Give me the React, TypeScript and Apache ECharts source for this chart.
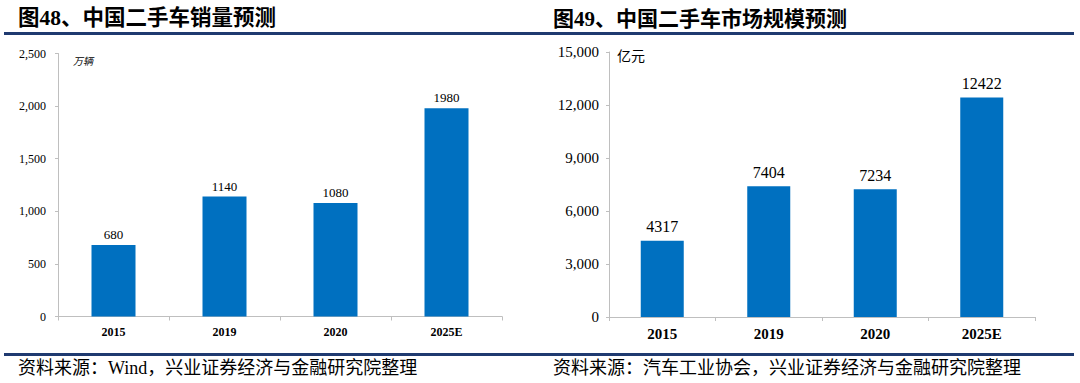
import React, { useEffect, useRef } from "react";
import * as echarts from "echarts";

const categories = ["2015", "2019", "2020", "2025E"];
const salesValues = [680, 1140, 1080, 1980];
const marketValues = [4317, 7404, 7234, 12422];
const leftTitle = "图48、中国二手车销量预测";
const rightTitle = "图49、中国二手车市场规模预测";
const leftUnit = "万辆";
const rightUnit = "亿元";
const leftSource = "资料来源：Wind，兴业证券经济与金融研究院整理";
const rightSource = "资料来源：汽车工业协会，兴业证券经济与金融研究院整理";

const SERIF = '"Liberation Serif", "Noto Sans CJK SC", serif';
const BAR = "#0070C0";
const NAVY = "#1F3A70";
const AXIS = "#BFBFBF";

const fmt = (v: number) => v.toLocaleString("en-US");

export default function App() {
  const ref = useRef<HTMLDivElement>(null);
  useEffect(() => {
    if (!ref.current) return;
    const chart = echarts.init(ref.current, null, { renderer: "svg" });
    const axisCommon = (fs: number) => ({
      type: "category" as const,
      data: categories,
      axisLine: { lineStyle: { color: AXIS, width: 1 } },
      axisTick: { show: true, alignWithLabel: false, length: 4, lineStyle: { color: AXIS } },
      axisLabel: { color: "#000", fontFamily: SERIF, fontSize: fs, fontWeight: "bold", margin: 9 },
    });
    chart.setOption({
      animation: false,
      backgroundColor: "#fff",
      grid: [
        { left: 58, right: 578, top: 53.5, bottom: 66.5 },
        { left: 609, right: 45, top: 52, bottom: 66 },
      ],
      xAxis: [
        { ...axisCommon(12), gridIndex: 0 },
        { ...axisCommon(15), gridIndex: 1 },
      ],
      yAxis: [
        {
          type: "value",
          gridIndex: 0,
          min: 0,
          max: 2500,
          interval: 500,
          splitLine: { show: false },
          axisLine: { show: true, lineStyle: { color: AXIS } },
          axisTick: { show: true, length: 3, lineStyle: { color: AXIS } },
          axisLabel: { color: "#000", fontFamily: SERIF, fontSize: 12, margin: 12, formatter: fmt },
        },
        {
          type: "value",
          gridIndex: 1,
          min: 0,
          max: 15000,
          interval: 3000,
          splitLine: { show: false },
          axisLine: { show: true, lineStyle: { color: AXIS } },
          axisTick: { show: true, length: 3, lineStyle: { color: AXIS } },
          axisLabel: { color: "#000", fontFamily: SERIF, fontSize: 15, margin: 10, formatter: fmt },
        },
      ],
      series: [
        {
          type: "bar",
          xAxisIndex: 0,
          yAxisIndex: 0,
          data: salesValues,
          barWidth: 44,
          itemStyle: { color: BAR },
          label: { show: true, position: "top", distance: 4, color: "#000", fontFamily: SERIF, fontSize: 13 },
        },
        {
          type: "bar",
          xAxisIndex: 1,
          yAxisIndex: 1,
          data: marketValues,
          barWidth: 43,
          itemStyle: { color: BAR },
          label: { show: true, position: "top", distance: 6, color: "#000", fontFamily: SERIF, fontSize: 16 },
        },
      ],
      graphic: [
        { type: "text", left: 18, top: 7, style: { text: leftTitle, font: `bold 21.5px ${SERIF}`, fill: "#000" } },
        { type: "text", left: 553, top: 8, style: { text: rightTitle, font: `bold 21px ${SERIF}`, fill: "#000" } },
        { type: "rect", shape: { x: 4, y: 32, width: 1070, height: 3 }, style: { fill: NAVY } },
        { type: "rect", shape: { x: 4, y: 353, width: 1070, height: 3 }, style: { fill: NAVY } },
        { type: "text", left: 73, top: 56, style: { text: leftUnit, font: `italic 10px ${SERIF}`, fill: "#000" } },
        { type: "text", left: 617, top: 49, style: { text: rightUnit, font: `14px ${SERIF}`, fill: "#000" } },
        { type: "text", left: 18, top: 359, style: { text: leftSource, font: `18px ${SERIF}`, fill: "#000" } },
        { type: "text", left: 553, top: 359, style: { text: rightSource, font: `18px ${SERIF}`, fill: "#000" } },
      ],
    });
    return () => chart.dispose();
  }, []);
  return (
    <div
      ref={ref}
      style={{ position: "fixed", left: 0, top: 0, width: 1080, height: 383 }}
    />
  );
}
